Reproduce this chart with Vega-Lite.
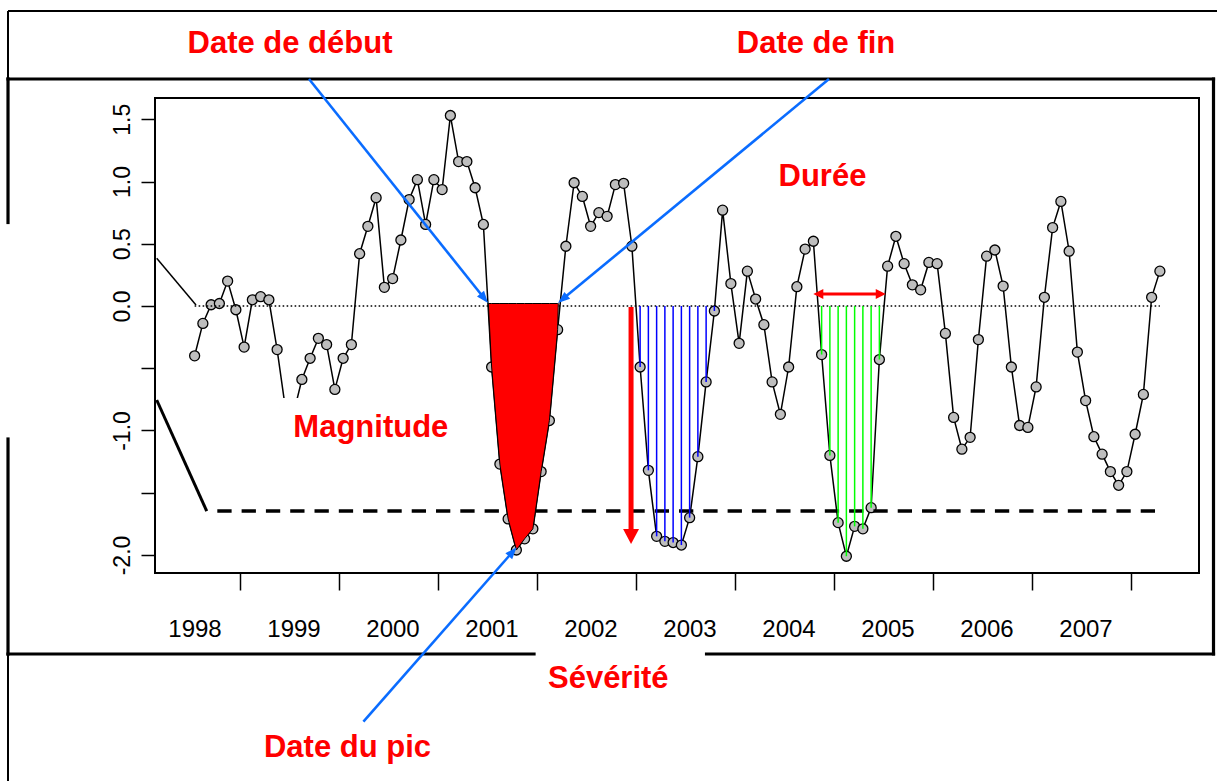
{
  "$schema": "https://vega.github.io/schema/vega-lite/v6.json",
  "width": 1044,
  "height": 475,
  "autosize": {"type": "none"},
  "padding": {"left": 155, "top": 98, "right": 18, "bottom": 208},
  "background": "white",
  "config": {"view": {"stroke": "black", "strokeWidth": 2}},
  "datasets": {
    "series": [
      {"m": 6.5, "v": -0.40}, {"m": 7.5, "v": -0.14}, {"m": 8.5, "v": 0.01}, {"m": 9.5, "v": 0.02},
      {"m": 10.5, "v": 0.20}, {"m": 11.5, "v": -0.03}, {"m": 12.5, "v": -0.33}, {"m": 13.5, "v": 0.05},
      {"m": 14.5, "v": 0.075}, {"m": 15.5, "v": 0.05}, {"m": 16.5, "v": -0.35}, {"m": 17.5, "v": -0.82},
      {"m": 18.5, "v": -0.86}, {"m": 19.5, "v": -0.59}, {"m": 20.5, "v": -0.42}, {"m": 21.5, "v": -0.26},
      {"m": 22.5, "v": -0.31}, {"m": 23.5, "v": -0.67}, {"m": 24.5, "v": -0.42}, {"m": 25.5, "v": -0.31},
      {"m": 26.5, "v": 0.42}, {"m": 27.5, "v": 0.64}, {"m": 28.5, "v": 0.87}, {"m": 29.5, "v": 0.15},
      {"m": 30.5, "v": 0.22}, {"m": 31.5, "v": 0.53}, {"m": 32.5, "v": 0.855}, {"m": 33.5, "v": 1.015},
      {"m": 34.5, "v": 0.655}, {"m": 35.5, "v": 1.015}, {"m": 36.5, "v": 0.935}, {"m": 37.5, "v": 1.53},
      {"m": 38.5, "v": 1.16}, {"m": 39.5, "v": 1.16}, {"m": 40.5, "v": 0.95}, {"m": 41.5, "v": 0.655},
      {"m": 42.5, "v": -0.49}, {"m": 43.5, "v": -1.27}, {"m": 44.5, "v": -1.71}, {"m": 45.5, "v": -1.96},
      {"m": 46.5, "v": -1.87}, {"m": 47.5, "v": -1.79}, {"m": 48.5, "v": -1.33}, {"m": 49.5, "v": -0.92},
      {"m": 50.5, "v": -0.19}, {"m": 51.5, "v": 0.48}, {"m": 52.5, "v": 0.99}, {"m": 53.5, "v": 0.88},
      {"m": 54.5, "v": 0.64}, {"m": 55.5, "v": 0.75}, {"m": 56.5, "v": 0.72}, {"m": 57.5, "v": 0.975},
      {"m": 58.5, "v": 0.985}, {"m": 59.5, "v": 0.48}, {"m": 60.5, "v": -0.49}, {"m": 61.5, "v": -1.32},
      {"m": 62.5, "v": -1.85}, {"m": 63.5, "v": -1.89}, {"m": 64.5, "v": -1.90}, {"m": 65.5, "v": -1.92},
      {"m": 66.5, "v": -1.70}, {"m": 67.5, "v": -1.21}, {"m": 68.5, "v": -0.61}, {"m": 69.5, "v": -0.04},
      {"m": 70.5, "v": 0.77}, {"m": 71.5, "v": 0.18}, {"m": 72.5, "v": -0.30}, {"m": 73.5, "v": 0.28},
      {"m": 74.5, "v": 0.056}, {"m": 75.5, "v": -0.15}, {"m": 76.5, "v": -0.61}, {"m": 77.5, "v": -0.87},
      {"m": 78.5, "v": -0.49}, {"m": 79.5, "v": 0.155}, {"m": 80.5, "v": 0.457}, {"m": 81.5, "v": 0.52},
      {"m": 82.5, "v": -0.39}, {"m": 83.5, "v": -1.20}, {"m": 84.5, "v": -1.74}, {"m": 85.5, "v": -2.01},
      {"m": 86.5, "v": -1.77}, {"m": 87.5, "v": -1.79}, {"m": 88.5, "v": -1.62}, {"m": 89.5, "v": -0.43},
      {"m": 90.5, "v": 0.32}, {"m": 91.5, "v": 0.56}, {"m": 92.5, "v": 0.34}, {"m": 93.5, "v": 0.17},
      {"m": 94.5, "v": 0.13}, {"m": 95.5, "v": 0.35}, {"m": 96.5, "v": 0.34}, {"m": 97.5, "v": -0.22},
      {"m": 98.5, "v": -0.895}, {"m": 99.5, "v": -1.15}, {"m": 100.5, "v": -1.055}, {"m": 101.5, "v": -0.27},
      {"m": 102.5, "v": 0.40}, {"m": 103.5, "v": 0.45}, {"m": 104.5, "v": 0.16}, {"m": 105.5, "v": -0.49},
      {"m": 106.5, "v": -0.96}, {"m": 107.5, "v": -0.975}, {"m": 108.5, "v": -0.65}, {"m": 109.5, "v": 0.07},
      {"m": 110.5, "v": 0.63}, {"m": 111.5, "v": 0.84}, {"m": 112.5, "v": 0.44}, {"m": 113.5, "v": -0.37},
      {"m": 114.5, "v": -0.76}, {"m": 115.5, "v": -1.05}, {"m": 116.5, "v": -1.19}, {"m": 117.5, "v": -1.33},
      {"m": 118.5, "v": -1.44}, {"m": 119.5, "v": -1.33}, {"m": 120.5, "v": -1.03}, {"m": 121.5, "v": -0.71},
      {"m": 122.5, "v": 0.07}, {"m": 123.5, "v": 0.28}
    ],
    "event1": [
      {"m": 42.1, "v": 0.02}, {"m": 42.5, "v": -0.49}, {"m": 43.5, "v": -1.27}, {"m": 44.5, "v": -1.71},
      {"m": 45.5, "v": -1.96}, {"m": 46.5, "v": -1.87}, {"m": 47.5, "v": -1.79}, {"m": 48.5, "v": -1.33},
      {"m": 49.5, "v": -0.92}, {"m": 50.5, "v": -0.19}, {"m": 50.58, "v": 0.02}
    ],
    "labels": [
      {"m": 18.06, "v": 2.03, "label": "Date de début"},
      {"m": 81.82, "v": 2.03, "label": "Date de fin"},
      {"m": 82.6, "v": 0.964, "label": "Durée"},
      {"m": 27.86, "v": -1.05, "label": "Magnitude"},
      {"m": 56.64, "v": -3.066, "label": "Sévérité"},
      {"m": 25.03, "v": -3.62, "label": "Date du pic"}
    ]
  },
  "encoding": {
    "x": {
      "field": "m", "type": "quantitative",
      "scale": {"domain": [1.697, 128.242], "nice": false, "zero": false},
      "axis": {
        "title": null, "values": [12, 24, 36, 48, 60, 72, 84, 96, 108, 120],
        "labelExpr": "format(1997 + datum.value / 12, 'd')",
        "labelOffset": -45.5, "domain": false, "grid": false,
        "tickSize": 17, "tickWidth": 1.5, "tickColor": "black",
        "labelFont": "Liberation Sans", "labelFontSize": 24, "labelColor": "black",
        "labelPadding": 46, "labelBaseline": "alphabetic",
        "labelOverlap": false, "labelBound": false, "labelFlush": false
      }
    },
    "y": {
      "field": "v", "type": "quantitative",
      "scale": {"domain": [-2.1446, 1.6707], "nice": false, "zero": false},
      "axis": {
        "title": null, "values": [-2, -1.5, -1, -0.5, 0, 0.5, 1, 1.5],
        "labelExpr": "datum.value == -0.5 || datum.value == -1.5 ? '' : (datum.value < 0 ? '-' : '') + format(abs(datum.value), '.1f')",
        "labelAngle": -90, "labelAlign": "center", "labelBaseline": "alphabetic",
        "labelPadding": 12, "tickSize": 14, "tickWidth": 1.5, "tickColor": "black",
        "domain": false, "grid": false,
        "labelFont": "Liberation Sans", "labelFontSize": 23, "labelColor": "black",
        "labelOverlap": false, "labelBound": false, "labelFlush": false
      }
    }
  },
  "layer": [
    {"data": {"name": "series"}, "mark": {"type": "line", "color": "black", "strokeWidth": 1.5}},
    {"data": {"name": "series"}, "mark": {"type": "point", "shape": "circle", "filled": true, "fill": "#bebebe", "stroke": "black", "strokeWidth": 1.3, "size": 100, "opacity": 1}},
    {"data": {"values": [{"m": 6.5, "m2": 123.5, "v": 0}]}, "mark": {"type": "rule", "color": "black", "strokeWidth": 1.6, "strokeDash": [1.6, 2.4]}, "encoding": {"x2": {"field": "m2"}}},
    {"data": {"values": [{"m": 9.25, "m2": 123.15, "v": -1.647}]}, "mark": {"type": "rule", "color": "black", "strokeWidth": 3.6, "strokeDash": [14.3, 10]}, "encoding": {"x2": {"field": "m2"}}},
    {"data": {"name": "event1"}, "mark": {"type": "area", "orient": "vertical", "color": "#ff0000", "stroke": "black", "strokeWidth": 1, "opacity": 1}, "encoding": {"y2": {"datum": 0.02}}},
    {"data": {"name": "series"}, "transform": [{"filter": "datum.m > 60 && datum.m < 70"}], "mark": {"type": "rule", "color": "#0000ff", "strokeWidth": 1.5}, "encoding": {"y2": {"datum": 0}}},
    {"data": {"name": "series"}, "transform": [{"filter": "datum.m > 82 && datum.m < 90"}], "mark": {"type": "rule", "color": "#00ff00", "strokeWidth": 1.5}, "encoding": {"y2": {"datum": 0}}},
    {"data": {"values": [{"m": 1.903, "m2": 6.667, "v": 0.383, "v2": 0.008}]}, "mark": {"type": "rule", "color": "black", "strokeWidth": 1.5}, "encoding": {"x2": {"field": "m2"}, "y2": {"field": "v2"}}},
    {"data": {"values": [{"m": 1.903, "m2": 7.964, "v": -0.755, "v2": -1.647}]}, "mark": {"type": "rule", "color": "black", "strokeWidth": 3}, "encoding": {"x2": {"field": "m2"}, "y2": {"field": "v2"}}},
    {"data": {"values": [{"m": 16.73, "m2": 38.91, "v": -0.739, "v2": -1.197}]}, "mark": {"type": "rect", "color": "white"}, "encoding": {"x2": {"field": "m2"}, "y2": {"field": "v2"}}},
    {"data": {"values": [
      {"m": -16.12, "m2": 131, "v": 2.3695, "v2": 2.3695},
      {"m": -16.12, "m2": -16.12, "v": 2.3695, "v2": 1.8233},
      {"m": -16.12, "m2": -16.12, "v": -2.7952, "v2": -3.9}
    ]}, "mark": {"type": "rule", "color": "black", "strokeWidth": 2}, "encoding": {"x2": {"field": "m2"}, "y2": {"field": "v2"}}},
    {"data": {"values": [
      {"m": -16.12, "m2": 130.0, "v": 1.8233, "v2": 1.8233},
      {"m": 130.0, "m2": 130.0, "v": 1.8233, "v2": -2.7952},
      {"m": -16.12, "m2": 47.64, "v": -2.7952, "v2": -2.7952},
      {"m": 68.55, "m2": 130.0, "v": -2.7952, "v2": -2.7952},
      {"m": -16.12, "m2": -16.12, "v": 1.8233, "v2": 0.6707},
      {"m": -16.12, "m2": -16.12, "v": -1.0683, "v2": -2.7952}
    ]}, "mark": {"type": "rule", "color": "black", "strokeWidth": 3.2, "strokeCap": "square"}, "encoding": {"x2": {"field": "m2"}, "y2": {"field": "v2"}}},
    {"data": {"values": [
      {"m": 20.364, "m2": 41.31, "v": 1.8233, "v2": 0.0867},
      {"m": 83.39, "m2": 51.48, "v": 1.8233, "v2": 0.0755},
      {"m": 26.96, "m2": 44.74, "v": -3.339, "v2": -1.998}
    ]}, "mark": {"type": "rule", "color": "#0a6cff", "strokeWidth": 2.6}, "encoding": {"x2": {"field": "m2"}, "y2": {"field": "v2"}}},
    {"data": {"values": [{"m": 42.06, "v": 0.0241}]}, "mark": {"type": "point", "shape": "M0,0L-0.375,1L0.375,1Z", "filled": true, "color": "#0a6cff", "opacity": 1, "size": 576, "angle": 141.4}},
    {"data": {"values": [{"m": 50.545, "v": 0.0241}]}, "mark": {"type": "point", "shape": "M0,0L-0.375,1L0.375,1Z", "filled": true, "color": "#0a6cff", "opacity": 1, "size": 576, "angle": 230.4}},
    {"data": {"values": [{"m": 45.54, "v": -1.938}]}, "mark": {"type": "point", "shape": "M0,0L-0.375,1L0.375,1Z", "filled": true, "color": "#0a6cff", "opacity": 1, "size": 576, "angle": 41.3}},
    {"data": {"values": [{"m": 59.4, "v": -0.008, "v2": -1.8}]}, "mark": {"type": "rule", "color": "#ff0000", "strokeWidth": 5}, "encoding": {"y2": {"field": "v2"}}},
    {"data": {"values": [{"m": 59.4, "v": -1.912}]}, "mark": {"type": "point", "shape": "M0,0L-0.53,1L0.53,1Z", "filled": true, "color": "#ff0000", "opacity": 1, "size": 900, "angle": 180}},
    {"data": {"values": [{"m": 82.3, "m2": 89.5, "v": 0.0964}]}, "mark": {"type": "rule", "color": "#ff0000", "strokeWidth": 3}, "encoding": {"x2": {"field": "m2"}}},
    {"data": {"values": [{"m": 81.49, "v": 0.0964}]}, "mark": {"type": "point", "shape": "M0,0L-0.5,1L0.5,1Z", "filled": true, "color": "#ff0000", "opacity": 1, "size": 400, "angle": 270}},
    {"data": {"values": [{"m": 90.27, "v": 0.0964}]}, "mark": {"type": "point", "shape": "M0,0L-0.5,1L0.5,1Z", "filled": true, "color": "#ff0000", "opacity": 1, "size": 400, "angle": 90}},
    {"data": {"name": "labels"}, "mark": {"type": "text", "font": "Liberation Sans", "fontWeight": "bold", "fontSize": 31, "color": "#ff0000", "align": "center", "baseline": "alphabetic"}, "encoding": {"text": {"field": "label"}}}
  ]
}
